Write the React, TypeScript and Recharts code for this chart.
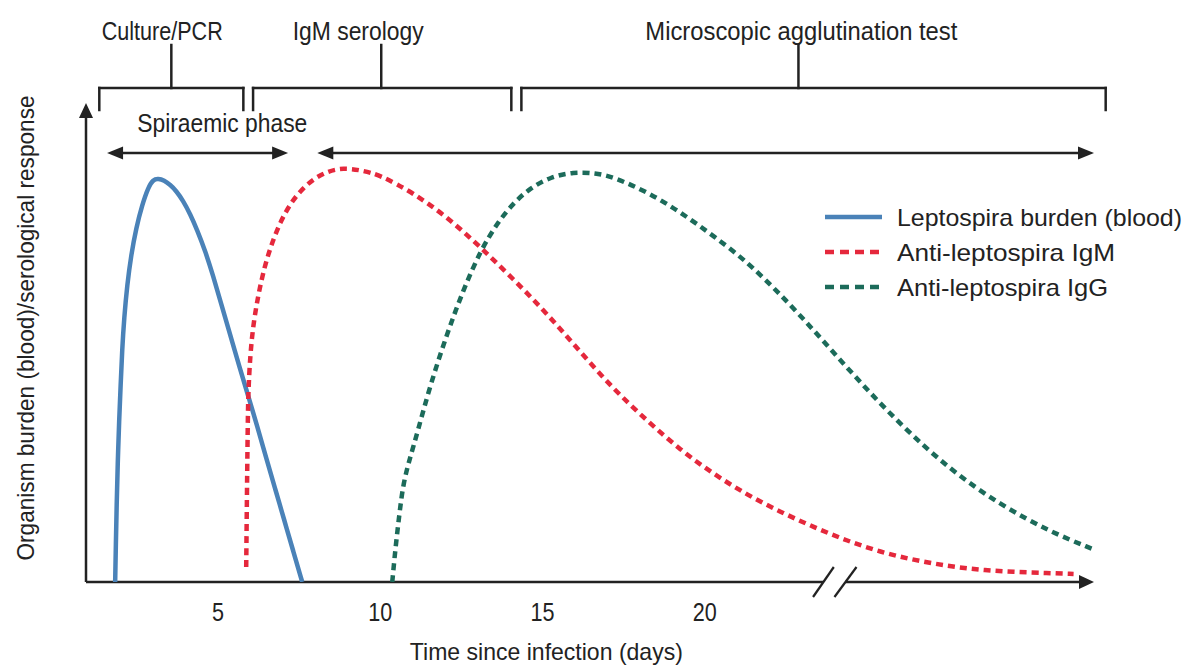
import { LineChart, Line, XAxis, YAxis, ReferenceLine, ReferenceDot, Legend } from "recharts";

// time since infection (days) and relative level
const burdenDays = [1.829, 1.85, 1.875, 1.906, 1.952, 1.998, 2.044, 2.106, 2.199, 2.322, 2.476, 2.661, 2.846, 3.0, 3.154, 3.339, 3.525, 3.71, 3.925, 4.141, 4.357, 4.604, 4.85, 5.097, 5.375, 5.652, 5.93, 6.207, 6.485, 6.762, 7.04, 7.317, 7.595];
const burdenLevels = [0, 9.25, 19.25, 29.25, 40.5, 49.25, 58, 66, 74.25, 81.75, 88.5, 94.25, 98.6, 100.6, 100.85, 100.4, 99.3, 97.8, 95.3, 92, 88, 82.8, 76.5, 69.5, 61.8, 54, 46.5, 39, 31, 23.25, 15.5, 7.75, 0];

const igmDays = [5.868, 5.883, 5.899, 5.914, 5.93, 5.992, 6.084, 6.238, 6.423, 6.639, 6.916, 7.224, 7.533, 7.934, 8.396, 8.859, 9.383, 10.0, 11.018, 12.066, 13.084, 14.102, 15.15, 16.168, 17.186, 18.234, 19.252, 20.27, 21.318, 22.336, 23.354, 24.402, 25.419, 26.437, 27.486, 28.503, 29.521, 30.569, 31.371];
const igmLevels = [3.75, 15.5, 28, 38, 47.25, 56.75, 64.25, 71.75, 78.5, 84.25, 90, 94.5, 97.75, 100.75, 102.75, 103.5, 103, 101.75, 97.25, 91.25, 83.75, 75.75, 67, 57.5, 48.25, 40.25, 33, 27, 21.75, 17.5, 13.75, 10.25, 7.5, 5.5, 4, 3, 2.5, 2.25, 2];

const iggDays = [10.37, 10.462, 10.586, 10.709, 10.925, 11.141, 11.542, 12.066, 12.559, 13.084, 13.608, 14.102, 14.626, 15.243, 15.952, 16.63, 17.186, 18.234, 19.252, 20.27, 21.411, 22.953, 24.495, 26.036, 27.578, 29.12, 30.662, 31.957];
const iggLevels = [0, 8, 16.75, 24.75, 31.25, 37.25, 49.25, 62.25, 73, 82.75, 89.75, 94.75, 98.5, 101.25, 102.5, 102.25, 101.25, 97.5, 92.5, 86.5, 79.5, 66.75, 52.5, 39.25, 28, 19.25, 12.5, 8.25];

const xTicks = [5, 10, 15, 20];

// test windows across the top
const testNames = ["Culture/PCR", "IgM serology", "Microscopic agglutination test"];
const testStart = [1.34, 6.08, 14.35];
const testEnd = [5.78, 14.04, 32.36];
const testStem = [3.56, 10.03, 22.89];
const testLabelDay = [3.28, 9.32, 22.98];
const testLabelWidth = [121, 131, 312];

const phaseArrow = [1.58, 7.16];
const matArrow = [8.06, 32.0];

const FONT = "'Liberation Sans', Arial, sans-serif";
const INK = "#222";

const series = [
  { name: "Leptospira burden (blood)", color: "#4a82b8", dash: undefined, legendDash: undefined, textW: 285, days: burdenDays, levels: burdenLevels },
  { name: "Anti-leptospira IgM", color: "#e5283c", dash: "7 5", legendDash: "9 6", textW: 218, days: igmDays, levels: igmLevels },
  { name: "Anti-leptospira IgG", color: "#1c6b5a", dash: "7 5", legendDash: "9 6", textW: 211, days: iggDays, levels: iggLevels },
];

const toRows = (days: number[], levels: number[]) => days.map((d, i) => ({ day: d, level: levels[i] }));

function arrow(heads: "end" | "both", len = 15, half = 7) {
  return (p: any) => {
    const { x1, y1, x2, y2 } = p;
    const L = Math.hypot(x2 - x1, y2 - y1) || 1;
    const ux = (x2 - x1) / L;
    const uy = (y2 - y1) / L;
    const tri = (tx: number, ty: number, dx: number, dy: number) =>
      `${tx},${ty} ${tx - dx * len - dy * half},${ty - dy * len + dx * half} ${tx - dx * len + dy * half},${ty - dy * len - dx * half}`;
    const sx = heads === "both" ? x1 + ux * len * 0.8 : x1;
    const sy = heads === "both" ? y1 + uy * len * 0.8 : y1;
    return (
      <g>
        <line x1={sx} y1={sy} x2={x2 - ux * len * 0.8} y2={y2 - uy * len * 0.8} stroke={INK} strokeWidth={2.5} />
        <polygon points={tri(x2, y2, ux, uy)} fill={INK} />
        {heads === "both" && <polygon points={tri(x1, y1, -ux, -uy)} fill={INK} />}
      </g>
    );
  };
}

// condensed-looking label: stretch the text to the width measured on the figure
const textAt = (value: string, size: number, width: number, rotate = false) => (p: any) => (
  <text
    x={p.cx}
    y={p.cy}
    textAnchor="middle"
    dominantBaseline="central"
    fontFamily={FONT}
    fontSize={size}
    fill={INK}
    textLength={width}
    lengthAdjust="spacingAndGlyphs"
    transform={rotate ? `rotate(-90 ${p.cx} ${p.cy})` : undefined}
  >
    {value}
  </text>
);

const DayTick = (p: any) => {
  const label = String(p.payload.value);
  return (
    <text x={p.x} y={p.y} dy="0.71em" textAnchor="middle" fontFamily={FONT} fontSize={25} fill={INK} textLength={label.length * 12} lengthAdjust="spacingAndGlyphs">
      {label}
    </text>
  );
};

const renderLegend = () => (
  <svg width={370} height={110}>
    {series.map((s, i) => (
      <g key={s.name} transform={`translate(0, ${17 + i * 35})`}>
        <line x1={0} y1={0} x2={57} y2={0} stroke={s.color} strokeWidth={4.5} strokeDasharray={s.legendDash} />
        <text x={72} y={0} dominantBaseline="central" fontFamily={FONT} fontSize={24} fill={INK} textLength={s.textW} lengthAdjust="spacingAndGlyphs">
          {s.name}
        </text>
      </g>
    ))}
  </svg>
);

const seg = { stroke: INK, strokeWidth: 2.5, strokeLinecap: "square" as const };

export default function App() {
  return (
    <div style={{ position: "absolute", left: 0, top: 0, width: 1193, height: 666, background: "#fff" }}>
      <LineChart width={1193} height={666} margin={{ top: 42, right: 99, bottom: 0, left: 86 }}>
        <XAxis
          type="number"
          dataKey="day"
          domain={[0.93, 32]}
          ticks={xTicks}
          axisLine={false}
          tickLine={false}
          tickSize={0}
          tickMargin={21}
          height={84}
          tick={<DayTick />}
          allowDataOverflow
        />
        <YAxis type="number" domain={[0, 135]} hide allowDataOverflow />

        {/* axes */}
        <ReferenceLine segment={[{ x: 0.93, y: 0 }, { x: 0.93, y: 119.75 }]} ifOverflow="visible" shape={arrow("end")} />
        <ReferenceLine segment={[{ x: 0.93, y: 0 }, { x: 23.66, y: 0 }]} ifOverflow="visible" {...seg} strokeLinecap="butt" />
        <ReferenceLine segment={[{ x: 24.34, y: 0 }, { x: 32, y: 0 }]} ifOverflow="visible" shape={arrow("end")} />
        <ReferenceLine segment={[{ x: 23.34, y: -3.75 }, { x: 23.98, y: 3.75 }]} ifOverflow="visible" stroke={INK} strokeWidth={2.2} />
        <ReferenceLine segment={[{ x: 24.0, y: -3.75 }, { x: 24.68, y: 3.75 }]} ifOverflow="visible" stroke={INK} strokeWidth={2.2} />

        {/* test brackets */}
        {testNames.map((name, i) => (
          <ReferenceLine key={`top-${name}`} segment={[{ x: testStart[i], y: 123.5 }, { x: testEnd[i], y: 123.5 }]} ifOverflow="visible" {...seg} />
        ))}
        {testNames.map((name, i) => (
          <ReferenceLine key={`l-${name}`} segment={[{ x: testStart[i], y: 123.5 }, { x: testStart[i], y: 118 }]} ifOverflow="visible" {...seg} />
        ))}
        {testNames.map((name, i) => (
          <ReferenceLine key={`r-${name}`} segment={[{ x: testEnd[i], y: 123.5 }, { x: testEnd[i], y: 118 }]} ifOverflow="visible" {...seg} />
        ))}
        {testNames.map((name, i) => (
          <ReferenceLine key={`s-${name}`} segment={[{ x: testStem[i], y: 123.5 }, { x: testStem[i], y: 134.25 }]} ifOverflow="visible" {...seg} />
        ))}
        {testNames.map((name, i) => (
          <ReferenceDot key={`t-${name}`} x={testLabelDay[i]} y={137.75} ifOverflow="visible" shape={textAt(name, 25, testLabelWidth[i])} />
        ))}

        {/* phase arrows */}
        <ReferenceLine segment={[{ x: phaseArrow[0], y: 107.25 }, { x: phaseArrow[1], y: 107.25 }]} ifOverflow="visible" shape={arrow("both", 16, 6.5)} />
        <ReferenceLine segment={[{ x: matArrow[0], y: 107.25 }, { x: matArrow[1], y: 107.25 }]} ifOverflow="visible" shape={arrow("both", 16, 6.5)} />
        <ReferenceDot x={5.13} y={114.75} ifOverflow="visible" shape={textAt("Spiraemic phase", 26, 170)} />

        {/* axis titles */}
        <ReferenceDot x={15.12} y={-17.25} ifOverflow="visible" shape={textAt("Time since infection (days)", 24, 273)} />
        <ReferenceDot x={-0.95} y={63.5} ifOverflow="visible" shape={textAt("Organism burden (blood)/serological response", 24, 465, true)} />

        {series.map((s) => (
          <Line
            key={s.name}
            name={s.name}
            data={toRows(s.days, s.levels)}
            dataKey="level"
            type="basis"
            stroke={s.color}
            strokeWidth={4.5}
            strokeDasharray={s.dash}
            dot={false}
            activeDot={false}
            isAnimationActive={false}
          />
        ))}

        <Legend
          layout="vertical"
          align="center"
          verticalAlign="middle"
          wrapperStyle={{ left: 825, top: 200, width: 370 }}
          content={renderLegend}
        />
      </LineChart>
    </div>
  );
}
